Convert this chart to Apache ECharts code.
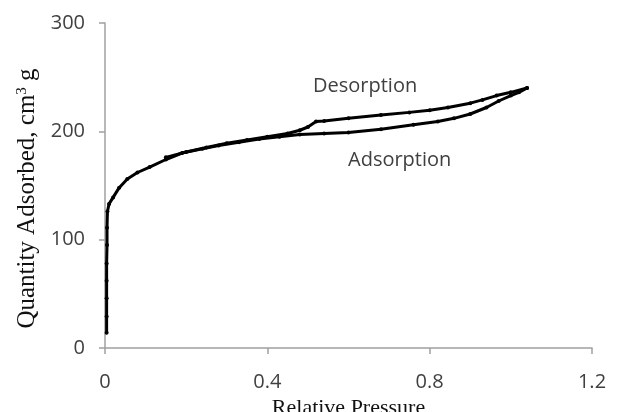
<!DOCTYPE html>
<html>
<head>
<meta charset="utf-8">
<script src="https://cdn.jsdelivr.net/npm/echarts@6/dist/echarts.min.js"></script>
<style>html,body{margin:0;padding:0;background:#fff}#c{width:631px;height:412px}</style>
</head>
<body>
<div id="c"></div>
<script>
// Adsorption branch
var adsP = [0.004,0.004,0.004,0.004,0.004,0.005,0.005,0.006,0.01,0.02,0.035,0.055,0.08,0.11,0.15,0.19,0.24,0.28,0.33,0.38,0.43,0.48,0.54,0.6,0.68,0.76,0.82,0.86,0.9,0.94,0.97,1.0,1.02,1.04];
var adsV = [14,29,46,62,78,95,111,126,133,139,148,156,162,167,174,180,184,187,190,193,195,197,198,199,202,206,209,212,216,222,228,233,236,240];
// Desorption branch
var desP = [1.04,1.0,0.965,0.93,0.9,0.845,0.8,0.75,0.68,0.6,0.54,0.52,0.5,0.48,0.45,0.4,0.35,0.3,0.25,0.2,0.15];
var desV = [240,236,233,229,226,222,219.5,217.5,215,212,209.5,209,204,201,198,195,192,189,185,181,176];
var xTicks = [0,0.4,0.8,1.2];
var yTicks = [0,100,200,300];

function pairs(a,b){return a.map(function(v,i){return [v,b[i]];});}
var chart = echarts.init(document.getElementById('c'));
var axisCol = '#a0a0a0';
var lblStyle = {color:'#404040', fontFamily:'Open Sans', fontSize:20};
chart.setOption({
  animation:false,
  grid:{left:105, right:39, top:23, bottom:64, containLabel:false, outerBoundsMode:'none'},
  xAxis:{type:'value', min:xTicks[0], max:xTicks[xTicks.length-1], interval:0.4,
    name:'Relative Pressure', nameLocation:'middle', nameGap:40,
    nameTextStyle:{fontFamily:'Liberation Serif', fontSize:22, color:'#111'},
    axisLine:{lineStyle:{color:axisCol, width:1.5}},
    axisTick:{show:true, length:6, lineStyle:{color:axisCol, width:1.5}},
    splitLine:{show:false},
    axisLabel:Object.assign({margin:24}, lblStyle)},
  yAxis:{type:'value', min:yTicks[0], max:yTicks[yTicks.length-1], interval:100,
    name:'Quantity Adsorbed, cm{sup|3} g', nameLocation:'middle', nameGap:45,
    nameTextStyle:{fontFamily:'Liberation Serif', fontSize:25, color:'#111', padding:[0,26,0,0],
      rich:{sup:{fontFamily:'Liberation Serif', fontSize:15, color:'#111', verticalAlign:'top', padding:[0,0,10,0]}}},
    axisLine:{show:true, lineStyle:{color:axisCol, width:1.5}},
    axisTick:{show:true, length:6, lineStyle:{color:axisCol, width:1.5}},
    splitLine:{show:false},
    axisLabel:Object.assign({margin:20}, lblStyle)},
  graphic:[
    {type:'text', left:313, top:76, style:{text:'Desorption', fill:'#404040', font:'20px "Open Sans"'}},
    {type:'text', left:348, top:150, style:{text:'Adsorption', fill:'#404040', font:'20px "Open Sans"'}}
  ],
  series:[
    {type:'line', name:'Adsorption', data:pairs(adsP,adsV), symbol:'circle', symbolSize:4,
     lineStyle:{color:'#000', width:3}, itemStyle:{color:'#000'}},
    {type:'line', name:'Desorption', data:pairs(desP,desV), symbol:'circle', symbolSize:4,
     lineStyle:{color:'#000', width:3}, itemStyle:{color:'#000'}}
  ]
});
</script>
</body>
</html>
